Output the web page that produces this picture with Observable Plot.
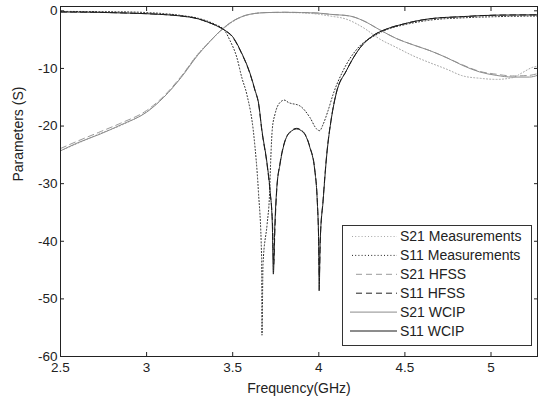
<!DOCTYPE html>
<html>
<head>
<meta charset="utf-8">
<script src="https://cdn.jsdelivr.net/npm/d3@7"></script>
<script src="https://cdn.jsdelivr.net/npm/@observablehq/plot@0.6"></script>
<style>
  html, body { margin: 0; padding: 0; background: #fff; }
  #chart { position: relative; width: 538px; height: 398px; }
</style>
</head>
<body>
<div id="chart"></div>
<script>
// ---- Data ----
const xTicks = [2.5, 3, 3.5, 4, 4.5, 5];
const yTicks = [-60, -50, -40, -30, -20, -10, 0];
const xLabel = "Frequency(GHz)";
const yLabel = "Parameters (S)";

const seriesNames = ["S21 Measurements", "S11 Measurements", "S21 HFSS", "S11 HFSS", "S21 WCIP", "S11 WCIP"];

// S21 measurements
const s21MeasF = [2.5, 2.6, 2.73, 2.85, 3.0, 3.1, 3.2, 3.3, 3.35, 3.427, 3.5, 3.6, 3.7, 3.8, 3.9, 4.0, 4.064, 4.16, 4.257, 4.354, 4.45, 4.547, 4.644, 4.74, 4.837, 4.933, 5.03, 5.126, 5.184, 5.242, 5.27];
const s21MeasV = [-24.3, -23.0, -21.3, -19.9, -17.5, -15.0, -11.5, -7.4, -5.8, -3.6, -1.9, -0.6, -0.3, -0.3, -0.35, -0.6, -0.9, -1.45, -2.9, -4.9, -6.35, -7.8, -9.0, -10.1, -11.3, -11.7, -11.9, -11.6, -10.7, -9.8, -9.6];

// S11 measurements
const s11MeasF = [2.5, 2.9, 3.0, 3.2, 3.3, 3.4, 3.45, 3.485, 3.524, 3.553, 3.582, 3.624, 3.649, 3.668, 3.670, 3.676, 3.70, 3.713, 3.722, 3.73, 3.746, 3.775, 3.80, 3.823, 3.89, 3.948, 3.987, 4.005, 4.025, 4.054, 4.083, 4.141, 4.238, 4.32, 4.4, 4.5, 4.65, 4.85, 5.05, 5.27];
const s11MeasV = [-0.1, -0.2, -0.3, -0.8, -1.3, -2.4, -3.3, -5.2, -8.1, -11.6, -14.5, -22, -31.2, -43, -56.3, -44, -37, -32.4, -25, -20.5, -17.9, -15.9, -15.5, -15.9, -16.5, -18.5, -20.5, -20.8, -19.7, -17.3, -14.5, -10.4, -6.1, -4.4, -3.2, -2.4, -1.6, -1.2, -1.0, -0.9];

// S21 HFSS
const s21HfssF = [2.5, 2.6, 2.73, 2.85, 3.0, 3.1, 3.2, 3.3, 3.35, 3.427, 3.5, 3.6, 3.7, 3.8, 3.9, 4.0, 4.064, 4.18, 4.257, 4.354, 4.45, 4.547, 4.644, 4.74, 4.837, 4.933, 5.03, 5.126, 5.223, 5.27];
const s21HfssV = [-23.9, -22.6, -21.0, -19.5, -17.3, -14.8, -11.4, -7.5, -5.9, -3.5, -1.8, -0.6, -0.3, -0.25, -0.3, -0.4, -0.6, -0.9, -1.7, -3.3, -4.8, -5.9, -6.9, -8.1, -9.4, -10.5, -11.0, -11.3, -11.2, -10.9];

// S11 HFSS
const s11HfssF = [2.5, 2.7, 2.9, 3.0, 3.1, 3.2, 3.3, 3.35, 3.4, 3.45, 3.5, 3.55, 3.6, 3.63, 3.65, 3.67, 3.70, 3.717, 3.732, 3.738, 3.746, 3.756, 3.775, 3.804, 3.833, 3.871, 3.91, 3.948, 3.977, 3.991, 3.999, 4.003, 4.009, 4.025, 4.045, 4.074, 4.10, 4.16, 4.24, 4.315, 4.39, 4.49, 4.64, 4.84, 5.03, 5.27];
const s11HfssV = [-0.2, -0.25, -0.4, -0.5, -0.65, -0.9, -1.4, -1.9, -2.5, -3.3, -4.6, -7.3, -10.9, -13.9, -16.1, -21.0, -26.8, -31.4, -37.5, -44.0, -37.2, -31.0, -26.4, -22.5, -21.0, -20.4, -21.0, -23.6, -27.6, -32.8, -39.5, -46.0, -39.6, -32.8, -25.2, -18.4, -14.4, -10.4, -6.4, -4.3, -3.2, -2.3, -1.4, -1.0, -0.75, -0.7];

// S21 WCIP
const s21WcipF = [2.5, 2.6, 2.73, 2.85, 3.0, 3.1, 3.2, 3.3, 3.35, 3.427, 3.5, 3.6, 3.7, 3.8, 3.9, 4.0, 4.064, 4.18, 4.257, 4.354, 4.45, 4.547, 4.644, 4.74, 4.837, 4.933, 5.03, 5.126, 5.223, 5.27];
const s21WcipV = [-24.3, -22.9, -21.4, -19.8, -17.6, -15.0, -11.6, -7.6, -5.9, -3.5, -1.8, -0.6, -0.3, -0.25, -0.3, -0.4, -0.6, -0.9, -1.7, -3.3, -4.8, -5.9, -6.9, -8.1, -9.5, -10.6, -11.2, -11.5, -11.5, -11.2];

// S11 WCIP
const s11WcipF = [2.5, 2.7, 2.9, 3.0, 3.1, 3.2, 3.3, 3.35, 3.4, 3.45, 3.5, 3.55, 3.6, 3.63, 3.65, 3.67, 3.70, 3.717, 3.73, 3.736, 3.745, 3.755, 3.775, 3.804, 3.833, 3.871, 3.91, 3.948, 3.977, 3.991, 3.999, 4.002, 4.008, 4.025, 4.045, 4.074, 4.10, 4.16, 4.24, 4.315, 4.39, 4.49, 4.64, 4.84, 5.03, 5.27];
const s11WcipV = [-0.2, -0.25, -0.4, -0.5, -0.65, -0.9, -1.4, -1.9, -2.5, -3.3, -4.5, -7.2, -10.8, -13.8, -16.0, -20.8, -26.6, -31.2, -37.0, -45.7, -37.0, -31.2, -26.6, -22.6, -21.1, -20.5, -21.1, -23.7, -27.8, -33.0, -40.0, -48.6, -40.0, -33.0, -25.4, -18.5, -14.5, -10.4, -6.4, -4.3, -3.2, -2.3, -1.4, -1.0, -0.75, -0.7];

// ---- Styles ----
const styles = {
  "S21 Measurements": {stroke: "#a6a6a6", dash: "1,2.2"},
  "S11 Measurements": {stroke: "#222222", dash: "1,2.2"},
  "S21 HFSS":         {stroke: "#9a9a9a", dash: "6,4"},
  "S11 HFSS":         {stroke: "#222222", dash: "6,4"},
  "S21 WCIP":         {stroke: "#8c8c8c", dash: null},
  "S11 WCIP":         {stroke: "#1a1a1a", dash: null}
};

const pairs = [
  [s21MeasF, s21MeasV], [s11MeasF, s11MeasV],
  [s21HfssF, s21HfssV], [s11HfssF, s11HfssV],
  [s21WcipF, s21WcipV], [s11WcipF, s11WcipV]
];
const tables = pairs.map(([F, V]) => F.map((f, i) => ({f, v: V[i]})));

const font = "'Liberation Sans', Arial, sans-serif";
const fmt = d => String(d);
const blank = () => "";

const lineMarks = tables.map((t, i) => {
  const st = styles[seriesNames[i]];
  return Plot.line(t, {
    x: "f", y: "v", curve: "monotone-x",
    stroke: st.stroke, strokeWidth: 1,
    strokeDasharray: st.dash || undefined
  });
});

const plot = Plot.plot({
  width: 538,
  height: 398,
  marginLeft: 60,
  marginRight: 1,
  marginTop: 6,
  marginBottom: 42,
  style: {fontFamily: font, fontSize: "13.5px", color: "#222", background: "#fff", overflow: "visible"},
  x: {domain: [2.5, 5.27]},
  y: {domain: [-60, 0.75]},
  marks: [
    ...lineMarks,
    Plot.frame({stroke: "#222", strokeWidth: 1}),
    // tick labels
    Plot.axisX({ticks: xTicks, tickFormat: fmt, tickSize: 0, tickPadding: 6, label: null, anchor: "bottom", fontSize: 13.5}),
    Plot.axisY({ticks: yTicks, tickFormat: fmt, tickSize: 0, tickPadding: 3, label: null, anchor: "left", fontSize: 13.5}),
    // inward ticks on all four sides
    Plot.axisX({ticks: xTicks, tickFormat: blank, tickSize: 4, dy: -4, label: null, anchor: "bottom"}),
    Plot.axisX({ticks: xTicks, tickFormat: blank, tickSize: 4, dy: 4, label: null, anchor: "top"}),
    Plot.axisY({ticks: yTicks, tickFormat: blank, tickSize: 4, dx: 4, label: null, anchor: "left"}),
    Plot.axisY({ticks: yTicks, tickFormat: blank, tickSize: 4, dx: -4, label: null, anchor: "right"}),
    Plot.text([xLabel], {frameAnchor: "bottom", dy: 36, text: d => d, fontSize: 14, fill: "#222"}),
    Plot.text([yLabel], {frameAnchor: "left", dx: -42, rotate: -90, text: d => d, fontSize: 14, fill: "#222"})
  ]
});

document.getElementById("chart").appendChild(plot);

// ---- Legend (drawn into the same SVG) ----
const svg = d3.select(plot);
const lg = svg.append("g").attr("font-family", font).attr("font-size", 14).attr("fill", "#222").attr("text-anchor", "start");
const box = {x: 342, y: 225, w: 189, h: 120};
lg.append("rect").attr("x", box.x + 0.5).attr("y", box.y + 0.5).attr("width", box.w).attr("height", box.h)
  .attr("fill", "#fff").attr("stroke", "#333").attr("stroke-width", 1);
seriesNames.forEach((name, i) => {
  const st = styles[name];
  const y = box.y + 11.5 + i * 18.9;
  const x0 = name.includes("Measurements") ? 352 : (name.includes("HFSS") ? 356 : 350);
  lg.append("line").attr("x1", x0).attr("x2", 397).attr("y1", y).attr("y2", y)
    .attr("stroke", st.stroke).attr("stroke-width", 1)
    .attr("stroke-dasharray", st.dash || null);
  lg.append("text").attr("x", 400).attr("y", y).attr("dy", "0.35em").attr("text-anchor", "start").text(name);
});
</script>
</body>
</html>
